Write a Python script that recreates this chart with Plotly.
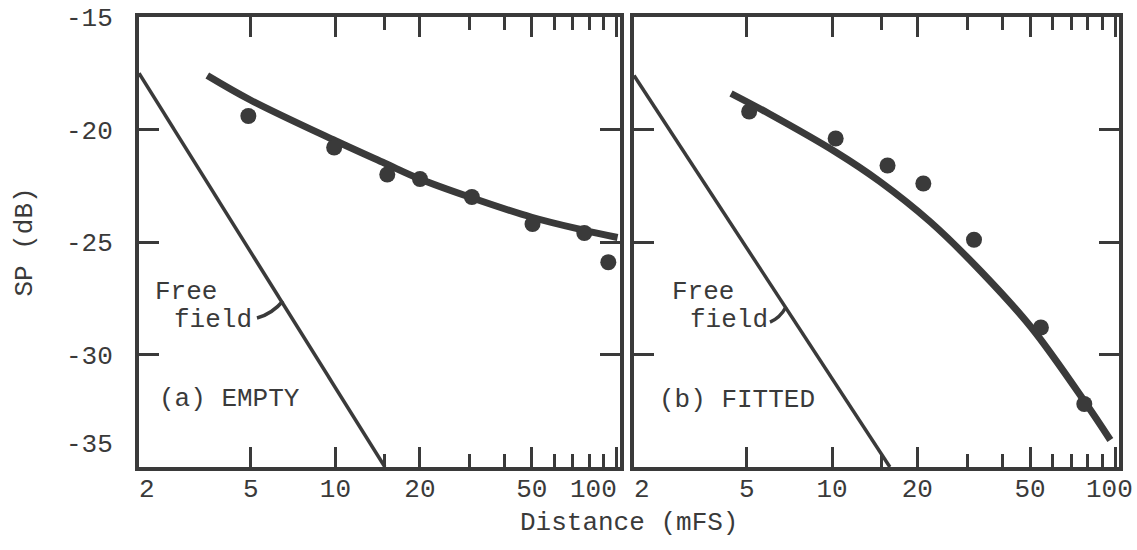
import math
import plotly.graph_objects as go

# (a) EMPTY tank - measured points and fitted curve
empty_dist = [4.9, 9.9, 15.3, 20.0, 30.6, 50.3, 76.9, 93.6]
empty_sp = [-19.4, -20.8, -22.0, -22.2, -23.0, -24.2, -24.6, -25.9]
empty_fit_dist = [3.5, 5, 10, 15, 20, 30, 50, 75, 101]
empty_fit_sp = [-17.6, -18.7, -20.5, -21.5, -22.2, -23.0, -23.9, -24.45, -24.8]

# (b) FITTED tank
fitted_dist = [5.1, 10.3, 15.7, 21.0, 31.7, 54.6, 77.7]
fitted_sp = [-19.2, -20.4, -21.6, -22.4, -24.9, -28.8, -32.2]
fitted_fit_dist = [4.4, 6.0, 10.3, 14.7, 22.2, 33.5, 50.5, 78, 96]
fitted_fit_sp = [-18.4, -19.3, -21.0, -22.3, -24.1, -26.3, -28.8, -32.1, -33.8]

# free field lines
free_dist_a = [2, 15]
free_sp_a = [-17.5, -35.0]
free_dist_b = [2, 16]
free_sp_b = [-17.6, -35.0]

x_ticks = [2, 5, 10, 20, 50, 100]
x_text = ["\u00a02", "5", "10", "20", "50", ""]
x_minor = [15, 30, 40, 60, 70, 80, 90]
y_ticks = [-15, -20, -25, -30, -35]
y_text = ["-15", "-20", "-25", "-30", ""]

ink = "#3a3a3a"
font = "Liberation Mono"
fs = 26

fig = go.Figure()

# panel a
fig.add_trace(go.Scatter(x=free_dist_a, y=free_sp_a, mode="lines",
                         line=dict(color=ink, width=3.5), xaxis="x", yaxis="y"))
fig.add_trace(go.Scatter(x=empty_fit_dist, y=empty_fit_sp, mode="lines",
                         line=dict(color=ink, width=7, shape="spline"), xaxis="x", yaxis="y"))
fig.add_trace(go.Scatter(x=empty_dist, y=empty_sp, mode="markers",
                         marker=dict(color=ink, size=16), xaxis="x", yaxis="y"))
# panel b
fig.add_trace(go.Scatter(x=free_dist_b, y=free_sp_b, mode="lines",
                         line=dict(color=ink, width=3.5), xaxis="x2", yaxis="y2"))
fig.add_trace(go.Scatter(x=fitted_fit_dist, y=fitted_fit_sp, mode="lines",
                         line=dict(color=ink, width=7, shape="spline"), xaxis="x2", yaxis="y2"))
fig.add_trace(go.Scatter(x=fitted_dist, y=fitted_sp, mode="markers",
                         marker=dict(color=ink, size=16), xaxis="x2", yaxis="y2"))
# empty traces so the label-only axes get drawn
fig.add_trace(go.Scatter(x=[], y=[], xaxis="x3", yaxis="y", hoverinfo="skip"))
fig.add_trace(go.Scatter(x=[], y=[], xaxis="x4", yaxis="y2", hoverinfo="skip"))
fig.add_trace(go.Scatter(x=[], y=[], xaxis="x", yaxis="y3", hoverinfo="skip"))

xrange = [math.log10(2), math.log10(103)]
xcommon = dict(type="log", range=xrange, tickvals=x_ticks, ticktext=x_text,
               ticks="inside", ticklen=20, tickwidth=3, tickcolor=ink,
               minor=dict(tickvals=x_minor, ticks="inside", ticklen=13, tickwidth=3, tickcolor=ink),
               showline=True, linewidth=4, linecolor=ink, mirror="ticks",
               showgrid=False, zeroline=False, ticklabelstandoff=-5, automargin=False,
               ticklabeloverflow="allow",
               tickfont=dict(family=font, size=fs, color=ink))
# "100" labels are crowded at the panel edges, so they sit a bit left of their tick
xlabel100 = dict(xcommon, tickvals=[100], ticktext=["100"], minor=dict(ticks=""),
                 ticks="", mirror=False)
ycommon = dict(range=[-35, -15], tickvals=y_ticks, ticktext=y_text,
               ticks="inside", ticklen=20, tickwidth=3, tickcolor=ink,
               showline=True, linewidth=4, linecolor=ink, mirror="ticks",
               showgrid=False, zeroline=False, automargin=False, ticklabelstandoff=17,
               tickfont=dict(family=font, size=fs, color=ink))

fig.update_layout(
    width=1137, height=550,
    margin=dict(l=139, r=18, t=17, b=83),
    paper_bgcolor="white", plot_bgcolor="white",
    showlegend=False,
    xaxis=dict(xcommon, domain=[0, 0.4908], anchor="y"),
    xaxis2=dict(xcommon, domain=[0.5051, 1], anchor="y2"),
    xaxis3=dict(xlabel100, overlaying="x", anchor="y", ticklabelshift=-23),
    xaxis4=dict(xlabel100, overlaying="x2", anchor="y2", ticklabelshift=-6),
    yaxis=dict(ycommon, anchor="x",
               title=dict(text="SP (dB)", standoff=27,
                          font=dict(family=font, size=fs, color=ink))),
    yaxis2=dict(ycommon, anchor="x2", showticklabels=False),
    # "-35" is written a little above the bottom axis
    yaxis3=dict(ycommon, overlaying="y", anchor="x", tickvals=[-35], ticktext=["-35"],
                ticks="", mirror=False, ticklabelshift=-24),
)

afont = dict(family=font, size=fs, color=ink)
notes = [
    ("x domain", "y domain", 0.029, 0.389, "Free"),
    ("x domain", "y domain", 0.069, 0.327, "field"),
    ("x domain", "y domain", 0.037, 0.151, "(a) EMPTY"),
    ("x2 domain", "y2 domain", 0.074, 0.389, "Free"),
    ("x2 domain", "y2 domain", 0.111, 0.327, "field"),
    ("x2 domain", "y2 domain", 0.047, 0.149, "(b) FITTED"),
]
for xr, yr, ax, ay, txt in notes:
    fig.add_annotation(xref=xr, yref=yr, x=ax, y=ay, text=txt, showarrow=False,
                       xanchor="left", yanchor="middle", font=afont)

fig.add_annotation(xref="paper", yref="paper", x=0.5, y=-0.124, yanchor="middle",
                   text="Distance (mFS)", showarrow=False,
                   font=dict(family=font, size=fs, color=ink))

# little hooks from the "Free field" labels to the lines
fig.add_shape(type="path", xref="x domain", yref="y domain",
              path="M 0.2453 0.3311 Q 0.2765 0.34 0.2994 0.3689",
              line=dict(color=ink, width=3.5))
fig.add_shape(type="path", xref="x2 domain", yref="y2 domain",
              path="M 0.2804 0.3222 Q 0.301 0.331 0.3134 0.3556",
              line=dict(color=ink, width=3.5))

fig.write_html("out.html", config={"displayModeBar": False},
               post_script="document.body.style.margin = '0';")
